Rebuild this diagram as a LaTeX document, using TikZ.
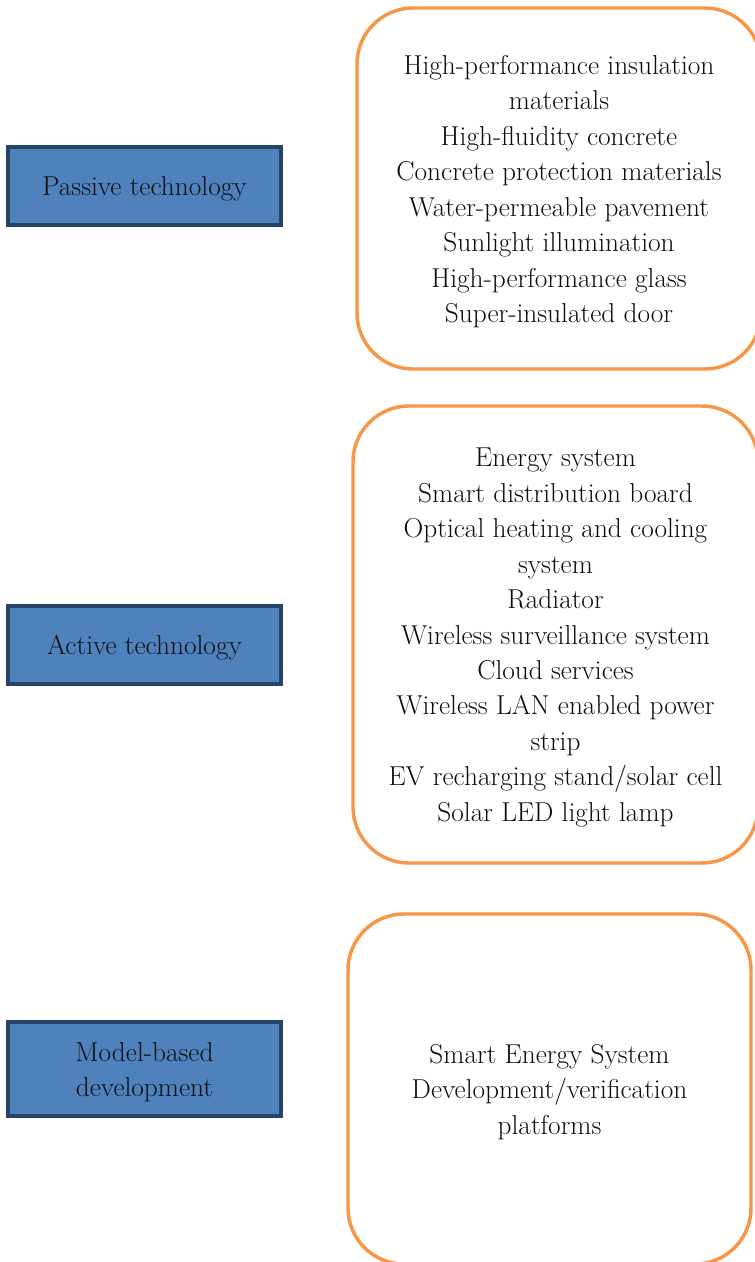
\documentclass[tikz,border=0pt]{standalone}
\definecolor{techfill}{HTML}{4F81BD}
\definecolor{techedge}{HTML}{264467}
\definecolor{listedge}{HTML}{F79646}
\tikzset{
  boxtext/.style={align=center, inner sep=0pt, text=black!95, yshift=-2.25pt,
    font=\fontsize{20.5}{26.6}\selectfont},
  techbox/.style={draw=techedge, fill=techfill, line width=3pt,
    minimum width=204.75pt, inner sep=0pt},
  listbox/.style={draw=listedge, line width=2.6pt, rounded corners=42pt,
    inner sep=0pt}
}
\begin{document}
\begin{tikzpicture}[x=0.75pt, y=-0.75pt]
  \useasboundingbox (0,0) rectangle (755,1262);
  \clip (0,0) rectangle (755,1262);
  \fill[white] (0,0) rectangle (755,1262);

  % category boxes
  \node[techbox, minimum height=58.5pt,
    label={[boxtext]center:{Passive technology}}] (passive) at (144.5,186) {};
  \node[techbox, minimum height=58.5pt,
    label={[boxtext]center:{Active technology}}] (active) at (144.5,645) {};
  \node[techbox, minimum height=70.5pt,
    label={[boxtext]center:{Model-based\\development}}] (model) at (144.5,1069) {};

  % technology lists
  \node[listbox, minimum width=303pt, minimum height=270.75pt,
    label={[boxtext]center:{High-performance insulation\\materials\\High-fluidity concrete\\Concrete protection materials\\Water-permeable pavement\\Sunlight illumination\\High-performance glass\\Super-insulated door}}]
    (plist) at (559,188.5) {};
  \node[listbox, minimum width=303.75pt, minimum height=342.75pt,
    label={[boxtext]center:{Energy system\\Smart distribution board\\Optical heating and cooling\\system\\Radiator\\Wireless surveillance system\\Cloud services\\Wireless LAN enabled power\\strip\\EV recharging stand/solar cell\\Solar LED light lamp}}]
    (alist) at (555.5,634.5) {};
  \node[listbox, minimum width=302.25pt, minimum height=262.5pt,
    label={[boxtext]center:{Smart Energy System\\Development/verification\\platforms}}]
    (mlist) at (549.5,1089) {};
\end{tikzpicture}
\end{document}
